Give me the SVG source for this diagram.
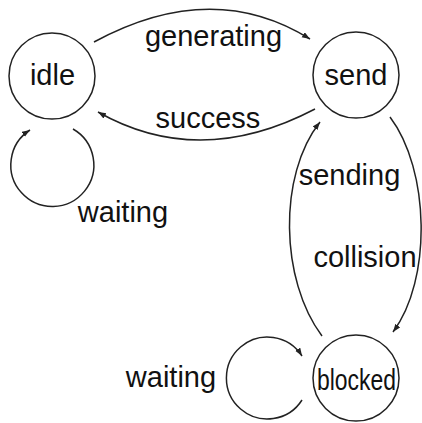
<svg xmlns="http://www.w3.org/2000/svg" width="422" height="423" viewBox="0 0 422 423">
<defs>
<marker id="arr" markerWidth="9" markerHeight="7" refX="8" refY="3" orient="auto" markerUnits="userSpaceOnUse">
<path d="M0,0 L8,3 L0,6 z" fill="#222"/>
</marker>
<style>
.node{fill:#fff;stroke:#222;stroke-width:1.5}
.lbl{font-family:"Liberation Sans",Arial,sans-serif;font-size:29px;fill:#111;text-anchor:middle}
.edge{fill:none;stroke:#222;stroke-width:1.5;marker-end:url(#arr)}
</style>
</defs>
<rect width="422" height="423" fill="#fff"/>
<g id="connectors">
<path class="edge" d="M94,42 Q212,-22 310,39"/>
<path class="edge" d="M315,109 Q199.5,169.5 98,112"/>
<path class="edge" d="M73,129 A41.5,41.5 0 1 1 30,130"/>
<path class="edge" d="M322,336 C280,280 278,175 320,122"/>
<path class="edge" d="M390,117 C430,170 432,280 393,332"/>
<path class="edge" d="M302,400 A41,41 0 1 1 302,356"/>
<text class="lbl" x="213.5" y="46">generating</text>
<text class="lbl" x="208" y="128">success</text>
<text class="lbl" x="123" y="222">waiting</text>
<text class="lbl" x="349.5" y="185">sending</text>
<text class="lbl" x="365" y="267">collision</text>
<text class="lbl" x="171" y="387">waiting</text>
</g>
<g id="idle">
<circle class="node" cx="52" cy="76" r="43"/>
<text class="lbl" x="52.5" y="85">idle</text>
</g>
<g id="send">
<circle class="node" cx="356" cy="75" r="43"/>
<text class="lbl" x="356" y="85">send</text>
</g>
<g id="blocked">
<circle class="node" cx="356" cy="378" r="43"/>
<text class="lbl" x="356.5" y="390" textLength="79" lengthAdjust="spacingAndGlyphs">blocked</text>
</g>
</svg>
